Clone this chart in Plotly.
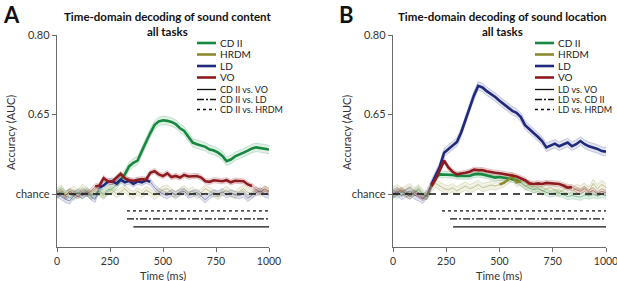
import plotly.graph_objects as go

# ---------------- data ----------------
time_ms = list(range(0, 1001, 20))

series_names = ["CD II", "HRDM", "LD", "VO"]
series_colors = ["#17883f", "#8c8a2e", "#1f2a7c", "#8e1b1f"]

# Panel A: decoding of sound content (AUC)
a_cd2 = [0.500, 0.505, 0.498, 0.502, 0.496, 0.503, 0.499, 0.505, 0.497, 0.502,
         0.506, 0.500, 0.508, 0.510, 0.517, 0.527, 0.537, 0.552, 0.559, 0.563,
         0.582, 0.598, 0.615, 0.630, 0.637, 0.639, 0.638, 0.636, 0.632, 0.624,
         0.619, 0.607, 0.597, 0.594, 0.592, 0.589, 0.584, 0.582, 0.578, 0.572,
         0.562, 0.565, 0.571, 0.574, 0.578, 0.582, 0.586, 0.588, 0.587, 0.586, 0.584]
a_hrdm = [0.505, 0.510, 0.498, 0.503, 0.508, 0.500, 0.512, 0.505, 0.498, 0.506,
          0.503, 0.497, 0.505, 0.508, 0.500, 0.504, 0.510, 0.502, 0.498, 0.505,
          0.500, 0.507, 0.503, 0.497, 0.502, 0.508, 0.510, 0.503, 0.497, 0.505,
          0.509, 0.502, 0.506, 0.498, 0.503, 0.510, 0.505, 0.500, 0.496, 0.503,
          0.507, 0.501, 0.498, 0.505, 0.510, 0.503, 0.500, 0.507, 0.502, 0.508, 0.505]
a_ld = [0.500, 0.495, 0.490, 0.487, 0.498, 0.502, 0.497, 0.503, 0.495, 0.490,
        0.512, 0.516, 0.523, 0.524, 0.520, 0.527, 0.522, 0.525, 0.519, 0.524,
        0.522, 0.526, 0.523, 0.512, 0.505, 0.500, 0.497, 0.502, 0.499, 0.503,
        0.505, 0.498, 0.500, 0.503, 0.496, 0.489, 0.497, 0.502, 0.500, 0.504,
        0.498, 0.502, 0.499, 0.497, 0.500, 0.492, 0.498, 0.503, 0.506, 0.500, 0.498]
a_vo = [0.498, 0.503, 0.497, 0.505, 0.500, 0.495, 0.503, 0.500, 0.506, 0.514,
        0.516, 0.530, 0.524, 0.523, 0.530, 0.538, 0.530, 0.526, 0.525, 0.527,
        0.528, 0.527, 0.540, 0.543, 0.537, 0.534, 0.539, 0.532, 0.534, 0.531,
        0.536, 0.533, 0.533, 0.534, 0.531, 0.524, 0.523, 0.526, 0.525, 0.524,
        0.526, 0.522, 0.525, 0.525, 0.524, 0.518, 0.515, 0.508, 0.504, 0.510, 0.505]
a_sem = [0.008, 0.007, 0.006, 0.005]
a_sig = [(280, 1000), None, (200, 440), (180, 920)]

# Panel B: decoding of sound location (AUC)
b_cd2 = [0.502, 0.497, 0.505, 0.500, 0.496, 0.503, 0.508, 0.498, 0.495, 0.515,
         0.530, 0.537, 0.537, 0.537, 0.536, 0.534, 0.534, 0.533, 0.534, 0.537,
         0.538, 0.537, 0.535, 0.533, 0.531, 0.532, 0.531, 0.530, 0.528, 0.526,
         0.522, 0.515, 0.512, 0.508, 0.510, 0.506, 0.503, 0.500, 0.502, 0.502,
         0.498, 0.495, 0.497, 0.496, 0.494, 0.498, 0.496, 0.499, 0.497, 0.499, 0.497]
b_hrdm = [0.505, 0.510, 0.503, 0.508, 0.512, 0.504, 0.510, 0.500, 0.497, 0.512,
          0.520, 0.515, 0.510, 0.508, 0.512, 0.506, 0.511, 0.515, 0.510, 0.513,
          0.518, 0.512, 0.514, 0.517, 0.515, 0.518, 0.521, 0.527, 0.534, 0.522,
          0.524, 0.515, 0.518, 0.510, 0.513, 0.505, 0.510, 0.512, 0.507, 0.503,
          0.508, 0.512, 0.505, 0.510, 0.508, 0.513, 0.505, 0.520, 0.510, 0.518, 0.512]
b_ld = [0.500, 0.505, 0.497, 0.502, 0.506, 0.498, 0.495, 0.490, 0.500, 0.518,
        0.535, 0.552, 0.578, 0.585, 0.592, 0.598, 0.616, 0.640, 0.662, 0.686,
        0.704, 0.701, 0.694, 0.689, 0.683, 0.676, 0.670, 0.664, 0.657, 0.653,
        0.645, 0.630, 0.622, 0.615, 0.608, 0.600, 0.588, 0.592, 0.595, 0.590,
        0.593, 0.597, 0.590, 0.594, 0.600, 0.594, 0.590, 0.588, 0.585, 0.581, 0.580]
b_vo = [0.498, 0.503, 0.508, 0.500, 0.495, 0.503, 0.497, 0.492, 0.498, 0.515,
        0.528, 0.545, 0.563, 0.550, 0.542, 0.537, 0.538, 0.540, 0.542, 0.546,
        0.545, 0.545, 0.543, 0.541, 0.540, 0.539, 0.538, 0.537, 0.535, 0.533,
        0.530, 0.526, 0.520, 0.519, 0.520, 0.519, 0.521, 0.520, 0.519, 0.519,
        0.516, 0.512, 0.513, 0.508, 0.505, 0.510, 0.503, 0.507, 0.500, 0.505, 0.502]
b_sem = [0.006, 0.008, 0.008, 0.005]
b_sig = [(180, 600), (500, 600), (180, 1000), (180, 840)]

# Pairwise significance bars: start time (ms) to 1000 ms
bar_levels = [0.468, 0.453, 0.438]
bar_dashes = ["dot", "7px,2px,2px,2px", "solid"]
a_bar_labels = ["CD II vs. VO", "CD II vs. LD", "CD II vs. HRDM"]
b_bar_labels = ["LD vs. VO", "LD vs. CD II", "LD vs. HRDM"]
a_bar_starts = [330, 330, 360]   # dotted (HRDM), dash-dot (LD), solid (VO)
b_bar_starts = [230, 268, 282]
bar_end = 1000

chance_level = 0.5
y_tickvals = [0.80, 0.65, 0.50]
y_ticktext = ["0.80", "0.65", "chance"]
x_tickvals = [0, 250, 500, 750, 1000]

title_lines = [["Time-domain decoding of sound content", "all tasks"],
               ["Time-domain decoding of sound location", "all tasks"]]

# ---------------- figure ----------------
W, H = 617, 281
FONT = "Lato"


def rgba(hexc, a):
    h = hexc.lstrip("#")
    r, g, b = int(h[0:2], 16), int(h[2:4], 16), int(h[4:6], 16)
    return f"rgba({r},{g},{b},{a})"


def px(x):
    return x / W


def py(y):
    return 1 - y / H


fig = go.Figure()

panels = [
    dict(xa="x", ya="y", data=[a_cd2, a_hrdm, a_ld, a_vo], sem=a_sem, sig=a_sig,
         bars=a_bar_starts),
    dict(xa="x2", ya="y2", data=[b_cd2, b_hrdm, b_ld, b_vo], sem=b_sem, sig=b_sig,
         bars=b_bar_starts),
]

for p in panels:
    xa, ya = p["xa"], p["ya"]
    for vals, s, col in zip(p["data"], p["sem"], series_colors):
        upper = [v + s for v in vals]
        lower = [v - s for v in vals]
        fig.add_trace(go.Scatter(x=time_ms, y=lower, mode="lines",
                                 line=dict(color=rgba(col, 0.25), width=0.8),
                                 xaxis=xa, yaxis=ya, hoverinfo="skip"))
        fig.add_trace(go.Scatter(x=time_ms, y=upper, mode="lines", fill="tonexty",
                                 fillcolor=rgba(col, 0.13),
                                 line=dict(color=rgba(col, 0.25), width=0.8),
                                 xaxis=xa, yaxis=ya, hoverinfo="skip"))
    for vals, col in zip(p["data"], series_colors):
        fig.add_trace(go.Scatter(x=time_ms, y=vals, mode="lines",
                                 line=dict(color=rgba(col, 0.45), width=1),
                                 xaxis=xa, yaxis=ya, hoverinfo="skip"))
    fig.add_trace(go.Scatter(x=[0, 1000], y=[chance_level, chance_level], mode="lines",
                             line=dict(color="#111", width=1.3, dash="7px,5px"),
                             xaxis=xa, yaxis=ya, hoverinfo="skip"))
    for vals, win, col in zip(p["data"], p["sig"], series_colors):
        if win is None:
            continue
        xs = [t for t in time_ms if win[0] <= t <= win[1]]
        ys = [v for t, v in zip(time_ms, vals) if win[0] <= t <= win[1]]
        fig.add_trace(go.Scatter(x=xs, y=ys, mode="lines",
                                 line=dict(color=col, width=2.6),
                                 xaxis=xa, yaxis=ya, hoverinfo="skip"))
    for start, lvl, dash in zip(p["bars"], bar_levels, bar_dashes):
        fig.add_trace(go.Scatter(x=[start, bar_end], y=[lvl, lvl], mode="lines",
                                 line=dict(color="#111", width=1.3, dash=dash),
                                 xaxis=xa, yaxis=ya, hoverinfo="skip"))

axis_common = dict(showline=True, linecolor="#6a6a6a", linewidth=1.3,
                   ticks="outside", ticklen=4, tickwidth=1.2, tickcolor="#6a6a6a",
                   showgrid=False, zeroline=False, automargin=False,
                   ticklabeloverflow="allow")
xfont = dict(family=FONT, size=10.5, color="#333")
yfont = dict(family=FONT, size=11, color="#333")

ydom = [py(247), py(35)]
fig.update_layout(
    width=W, height=H, margin=dict(l=0, r=0, t=0, b=0, pad=0),
    paper_bgcolor="white", plot_bgcolor="white", showlegend=False,
    font=dict(family=FONT, color="#222"),
    xaxis=dict(domain=[px(57), px(269)], range=[0, 1000], tickvals=x_tickvals,
               anchor="y", tickfont=xfont, **axis_common),
    yaxis=dict(domain=ydom, range=[0.40, 0.80], tickvals=y_tickvals,
               ticktext=y_ticktext, anchor="x", tickfont=yfont, **axis_common),
    xaxis2=dict(domain=[px(393), px(606)], range=[0, 1000], tickvals=x_tickvals,
                anchor="y2", tickfont=xfont, **axis_common),
    yaxis2=dict(domain=ydom, range=[0.40, 0.80], tickvals=y_tickvals,
                ticktext=y_ticktext, anchor="x2", tickfont=yfont, **axis_common),
)

ann = []
for letter, x in zip(["A", "B"], [1, 337]):
    ann.append(dict(text=f"<b>{letter}</b>", x=px(x), y=py(-1), xref="paper", yref="paper",
                    xanchor="left", yanchor="top", showarrow=False,
                    font=dict(family=FONT, size=22, color="#111")))
for lines, xc in zip(title_lines, [168, 502]):
    for line, yc in zip(lines, [16, 31.5]):
        ann.append(dict(text=f"<b>{line}</b>", x=px(xc), y=py(yc), xref="paper",
                        yref="paper", xanchor="center", yanchor="middle", showarrow=False,
                        font=dict(family=FONT, size=11.5, color="#111")))
for xc in [11, 347]:
    ann.append(dict(text="Accuracy (AUC)", x=px(xc), y=py(133), xref="paper", yref="paper",
                    xanchor="center", yanchor="middle", textangle=-90, showarrow=False,
                    font=dict(family=FONT, size=11, color="#333")))
for xc in [163, 499]:
    ann.append(dict(text="Time (ms)", x=px(xc), y=py(275), xref="paper", yref="paper",
                    xanchor="center", yanchor="middle", showarrow=False,
                    font=dict(family=FONT, size=11, color="#333")))

shapes = []
legend_rows_color = [43, 54.5, 66, 77.5]
legend_rows_black = [89.5, 99.5, 109.5]
for x0, bar_labels in [(197, a_bar_labels), (535, b_bar_labels)]:
    for name, col, yr in zip(series_names, series_colors, legend_rows_color):
        shapes.append(dict(type="line", xref="paper", yref="paper",
                           x0=px(x0), x1=px(x0 + 19), y0=py(yr), y1=py(yr),
                           line=dict(color=col, width=2.6)))
        ann.append(dict(text=name, x=px(x0 + 21), y=py(yr), xref="paper", yref="paper",
                        xanchor="left", yanchor="middle", showarrow=False,
                        font=dict(family=FONT, size=10, color="#222")))
    for label, dash, yr in zip(bar_labels, ["solid", "7px,2px,2px,2px", "dot"],
                               legend_rows_black):
        shapes.append(dict(type="line", xref="paper", yref="paper",
                           x0=px(x0), x1=px(x0 + 19), y0=py(yr), y1=py(yr),
                           line=dict(color="#111", width=1.3, dash=dash)))
        ann.append(dict(text=label, x=px(x0 + 21), y=py(yr), xref="paper", yref="paper",
                        xanchor="left", yanchor="middle", showarrow=False,
                        font=dict(family=FONT, size=9, color="#222")))

fig.update_layout(annotations=ann, shapes=shapes)
fig.write_html("out.html", config={"displayModeBar": False},
               post_script="document.body.style.margin='0';"
                           "document.body.style.overflow='hidden';")
